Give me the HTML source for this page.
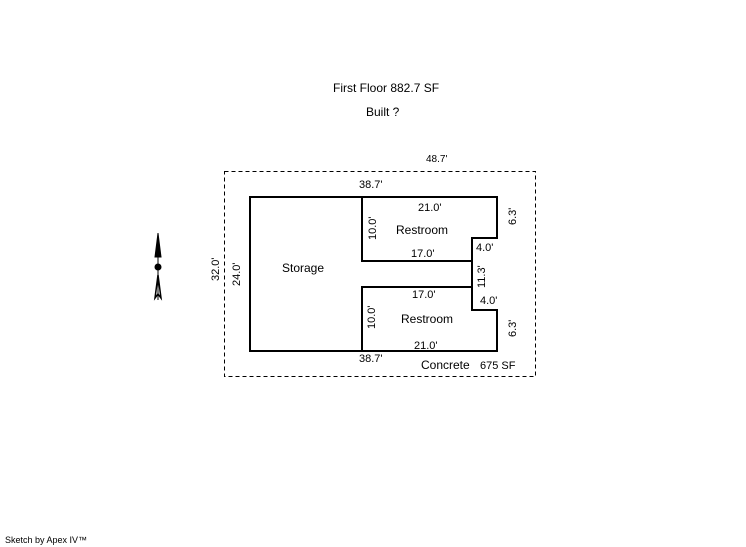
<!DOCTYPE html>
<html><head><style>
html,body{margin:0;padding:0;background:#fff;}
svg{display:block;}
text{font-family:"Liberation Sans",Arial,sans-serif;fill:#000;}
</style></head><body>
<svg width="746" height="547" viewBox="0 0 746 547" xmlns="http://www.w3.org/2000/svg">
<text x="333" y="92" font-size="12">First Floor 882.7 SF</text>
<text x="366" y="116" font-size="12">Built ?</text>
<text x="426" y="162" font-size="10">48.7'</text>
<rect x="224.5" y="171.5" width="311" height="205" fill="none" stroke="#000" stroke-width="1" stroke-dasharray="4,3"/>
<g fill="none" stroke="#000" stroke-width="2">
<polyline points="362,197 250,197 250,351 497,351 497,310 472,310 472,238 497,238 497,197 362,197 362,261 472,261"/>
<polyline points="472,287 362,287 362,351"/>
</g>
<text x="359" y="188" font-size="11">38.7'</text>
<text x="359" y="362" font-size="11">38.7'</text>
<text x="418" y="211" font-size="11">21.0'</text>
<text x="411" y="257" font-size="11">17.0'</text>
<text x="412" y="298" font-size="11">17.0'</text>
<text x="414" y="349" font-size="11">21.0'</text>
<text x="396" y="234" font-size="12">Restroom</text>
<text x="401" y="323" font-size="12">Restroom</text>
<text x="282" y="272" font-size="12">Storage</text>
<text x="476" y="251" font-size="11">4.0'</text>
<text x="480" y="304" font-size="11">4.0'</text>
<text x="421" y="369" font-size="12">Concrete</text>
<text x="480" y="369" font-size="11">675 SF</text>
<text transform="translate(376,240) rotate(-90)" font-size="11">10.0'</text>
<text transform="translate(375,329) rotate(-90)" font-size="11">10.0'</text>
<text transform="translate(516,225) rotate(-90)" font-size="11">6.3'</text>
<text transform="translate(516,337) rotate(-90)" font-size="11">6.3'</text>
<text transform="translate(485,288) rotate(-90)" font-size="11">11.3'</text>
<text transform="translate(219,281) rotate(-90)" font-size="11">32.0'</text>
<text transform="translate(240,286) rotate(-90)" font-size="11">24.0'</text>
<g stroke="#000" fill="#000">
<polygon points="158,233 161,257 155,257" />
<line x1="158" y1="233" x2="158" y2="300" stroke-width="1"/>
<circle cx="158" cy="267" r="3"/>
<polygon points="158,275 161,298 158,294 155,298" fill="none" stroke-width="1.5"/>
</g>
<text x="5" y="543" font-size="9">Sketch by Apex IV™</text>
</svg>
</body></html>
